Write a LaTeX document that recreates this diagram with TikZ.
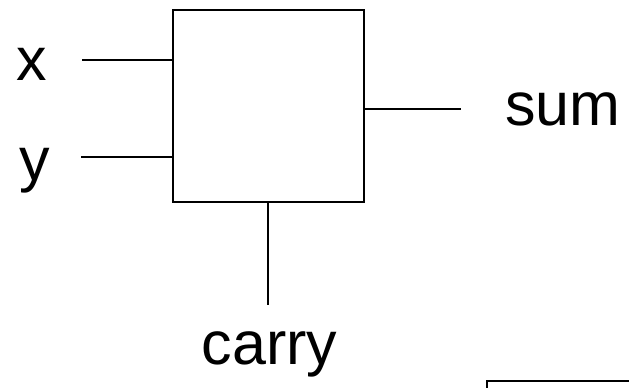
\documentclass[tikz,border=0pt]{standalone}
\usepackage{fontspec}
\setmainfont{Liberation Sans}
\begin{document}
\begin{tikzpicture}[x=1pt,y=1pt,
  wire/.style={line width=2pt},
  label/.style={inner sep=0pt,anchor=base,font=\fontsize{61}{70}\selectfont},
  block/.style={draw,line width=2pt,inner sep=0pt,outer sep=0pt}]
  \useasboundingbox (0,0) rectangle (629,388);
  % half adder block
  \node[block,minimum width=191pt,minimum height=192pt] (ha) at (268.5,282) {};
  % port labels
  \node[label] (x) at (32,307) {x};
  \node[label] (y) at (35,207) {y};
  \node[label] (sum) at (563,262) {sum};
  \node[label] (carry) at (269.5,23) {carry};
  % free ends of the wires
  \coordinate (xe) at (82,328);
  \coordinate (ye) at (81,231);
  \coordinate (se) at (461,279);
  \coordinate (ce) at (268,83);
  \draw[wire] (xe) -- (xe -| ha.west);
  \draw[wire] (ye) -- (ye -| ha.west);
  \draw[wire] (ha.east |- se) -- (se);
  \draw[wire] (ha.south -| ce) -- (ce);
  % next block, running off the page
  \node[block,anchor=north west,minimum width=200pt,minimum height=60pt] (next) at (487,7) {};
\end{tikzpicture}
\end{document}
